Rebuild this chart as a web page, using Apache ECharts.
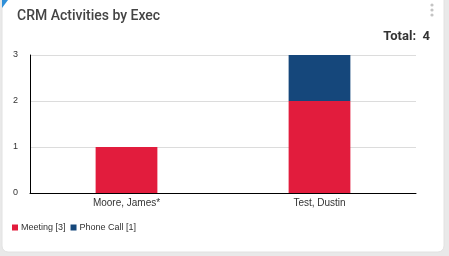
<!DOCTYPE html>
<html><head><meta charset="utf-8">
<script src="https://cdn.jsdelivr.net/npm/echarts@6/dist/echarts.min.js"></script>
<style>html,body{margin:0;padding:0;background:#e9e9e9;}#c{width:449px;height:256px;}</style>
</head><body><div id="c"></div>
<script>
const categories = ['Moore, James*', 'Test, Dustin'];
const meeting = [1, 2];
const phoneCall = [0, 1];
const yTicks = [0, 1, 2, 3];
const seriesNames = ['Meeting [3]', 'Phone Call [1]'];
const totalText = 'Total:  4';

const chart = echarts.init(document.getElementById('c'), null, {renderer: 'canvas'});
chart.setOption({
  animation: false,
  backgroundColor: '#e9e9e9',
  graphic: [
    {type: 'rect', z: -10, shape: {x: 2, y: -8, width: 442, height: 260, r: 6}, style: {fill: '#ffffff', stroke: '#e2e2e2'}},
    {type: 'polygon', z: -5, shape: {points: [[2, 0], [8, 0], [2, 8]]}, style: {fill: '#2f8fd8'}},
    {type: 'circle', shape: {cx: 432, cy: 5, r: 1.6}, style: {fill: '#c4c4c4'}},
    {type: 'circle', shape: {cx: 432, cy: 10, r: 1.6}, style: {fill: '#c4c4c4'}},
    {type: 'circle', shape: {cx: 432, cy: 15, r: 1.6}, style: {fill: '#c4c4c4'}}
  ],
  title: [
    {text: 'CRM Activities by Exec', left: 12, top: 4, textStyle: {fontFamily: 'Roboto', fontWeight: 500, fontSize: 14, color: '#444'}},
    {text: totalText, right: 14, top: 25, textStyle: {fontFamily: 'Roboto', fontWeight: 'bold', fontSize: 13, color: '#333'}}
  ],
  legend: {
    left: 7, top: 218, icon: 'rect', itemWidth: 6, itemHeight: 6, itemGap: 5,
    textStyle: {fontFamily: 'Arial', fontSize: 9, color: '#333', padding: [0, 0, 0, -2]},
    data: seriesNames
  },
  grid: {left: 30, right: 33, top: 55, bottom: 63, containLabel: false},
  xAxis: {
    type: 'category', data: categories,
    axisLine: {lineStyle: {color: '#000', width: 1}},
    axisTick: {show: false},
    axisLabel: {fontFamily: 'Arial', fontSize: 10, color: '#333', margin: 5}
  },
  yAxis: {
    type: 'value', min: yTicks[0], max: yTicks[yTicks.length - 1], interval: 1,
    axisLine: {show: true, lineStyle: {color: '#000', width: 1}},
    axisTick: {show: false},
    axisLabel: {fontFamily: 'Arial', fontSize: 9, color: '#333', margin: 12},
    splitLine: {lineStyle: {color: '#dcdcdc'}}
  },
  series: [
    {name: seriesNames[0], type: 'bar', stack: 'a', data: meeting, barWidth: '32%', itemStyle: {color: '#e21c3d'}},
    {name: seriesNames[1], type: 'bar', stack: 'a', data: phoneCall, barWidth: '32%', itemStyle: {color: '#15477b'}}
  ]
});
</script></body></html>
